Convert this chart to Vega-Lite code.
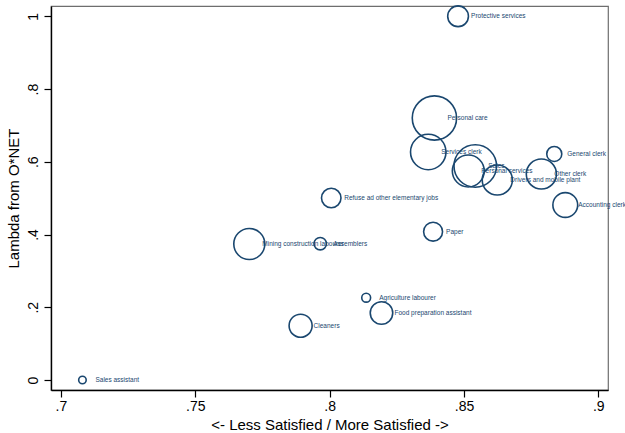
{
  "$schema": "https://vega.github.io/schema/vega-lite/v6.json",
  "width": 557,
  "height": 384,
  "autosize": "none",
  "padding": {"left": 51, "top": 6, "right": 17, "bottom": 43},
  "background": "white",
  "config": {
    "view": {"stroke": "#6e6e6e", "strokeWidth": 1.2},
    "font": "Liberation Sans"
  },
  "data": {
    "values": [
      {"occ": "Protective services", "sat": 0.8478, "lambda": 1.0, "weight": 137},
      {"occ": "Personal care", "sat": 0.8390, "lambda": 0.7204, "weight": 625},
      {"occ": "Services clerk", "sat": 0.8367, "lambda": 0.6269, "weight": 400},
      {"occ": "Sales", "sat": 0.8542, "lambda": 0.5884, "weight": 576},
      {"occ": "Personal services", "sat": 0.8516, "lambda": 0.5747, "weight": 324},
      {"occ": "Drivers and mobile plant", "sat": 0.8624, "lambda": 0.5499, "weight": 289},
      {"occ": "Other clerk", "sat": 0.8788, "lambda": 0.5664, "weight": 289},
      {"occ": "General clerk", "sat": 0.8836, "lambda": 0.6214, "weight": 72},
      {"occ": "Accounting clerk", "sat": 0.8877, "lambda": 0.4812, "weight": 196},
      {"occ": "Refuse ad other elementary jobs", "sat": 0.8006, "lambda": 0.5004, "weight": 121},
      {"occ": "Mining construction labourer", "sat": 0.7701, "lambda": 0.3739, "weight": 306},
      {"occ": "Assemblers", "sat": 0.7965, "lambda": 0.3748, "weight": 49},
      {"occ": "Paper", "sat": 0.8385, "lambda": 0.4078, "weight": 114},
      {"occ": "Agriculture labourer", "sat": 0.8136, "lambda": 0.2263, "weight": 25},
      {"occ": "Food preparation assistant", "sat": 0.8193, "lambda": 0.1842, "weight": 161},
      {"occ": "Cleaners", "sat": 0.7892, "lambda": 0.1493, "weight": 169},
      {"occ": "Sales assistant", "sat": 0.7080, "lambda": 0.0, "weight": 18}
    ]
  },
  "encoding": {
    "x": {
      "field": "sat", "type": "quantitative",
      "scale": {"domain": [0.6963, 0.9036], "nice": false, "zero": false},
      "axis": {
        "values": [0.7, 0.75, 0.8, 0.85, 0.9],
        "labelExpr": "replace(format(datum.value, '.2~f'), '0.', '.')",
        "grid": false,
        "domainColor": "black", "domainWidth": 1.4,
        "tickColor": "black", "tickWidth": 1.2, "tickSize": 7,
        "labelFontSize": 14, "labelColor": "black", "labelPadding": 2,
        "labelFont": "Liberation Sans",
        "title": "<- Less Satisfied / More Satisfied ->",
        "titleFontSize": 15, "titleFontWeight": "normal", "titleColor": "black",
        "titleFont": "Liberation Sans", "titlePadding": 4
      }
    },
    "y": {
      "field": "lambda", "type": "quantitative",
      "scale": {"domain": [-0.0275, 1.0283], "nice": false, "zero": false},
      "axis": {
        "values": [0, 0.2, 0.4, 0.6, 0.8, 1],
        "labelExpr": "datum.value == 0 ? '0' : datum.value == 1 ? '1' : replace(format(datum.value, '.1f'), '0.', '.')",
        "grid": false,
        "domainColor": "black", "domainWidth": 1.4,
        "tickColor": "black", "tickWidth": 1.2, "tickSize": 7,
        "labelFontSize": 14, "labelColor": "black", "labelPadding": 4,
        "labelAngle": 270, "labelAlign": "center", "labelBaseline": "bottom",
        "labelFont": "Liberation Sans",
        "title": "Lambda from O*NET",
        "titleFontSize": 15, "titleFontWeight": "normal", "titleColor": "black",
        "titleFont": "Liberation Sans", "titlePadding": 5
      }
    }
  },
  "layer": [
    {
      "mark": {"type": "point", "shape": "circle", "filled": false, "stroke": "#1a476f", "strokeWidth": 1.6, "opacity": 1},
      "encoding": {
        "size": {"field": "weight", "type": "quantitative", "legend": null,
                 "scale": {"type": "linear", "domain": [0, 700], "range": [0, 2199], "zero": true}}
      }
    },
    {
      "mark": {"type": "text", "align": "left", "baseline": "middle", "dx": 13, "fontSize": 6.5, "color": "#1a476f", "font": "Liberation Sans"},
      "encoding": {"text": {"field": "occ"}}
    }
  ]
}
